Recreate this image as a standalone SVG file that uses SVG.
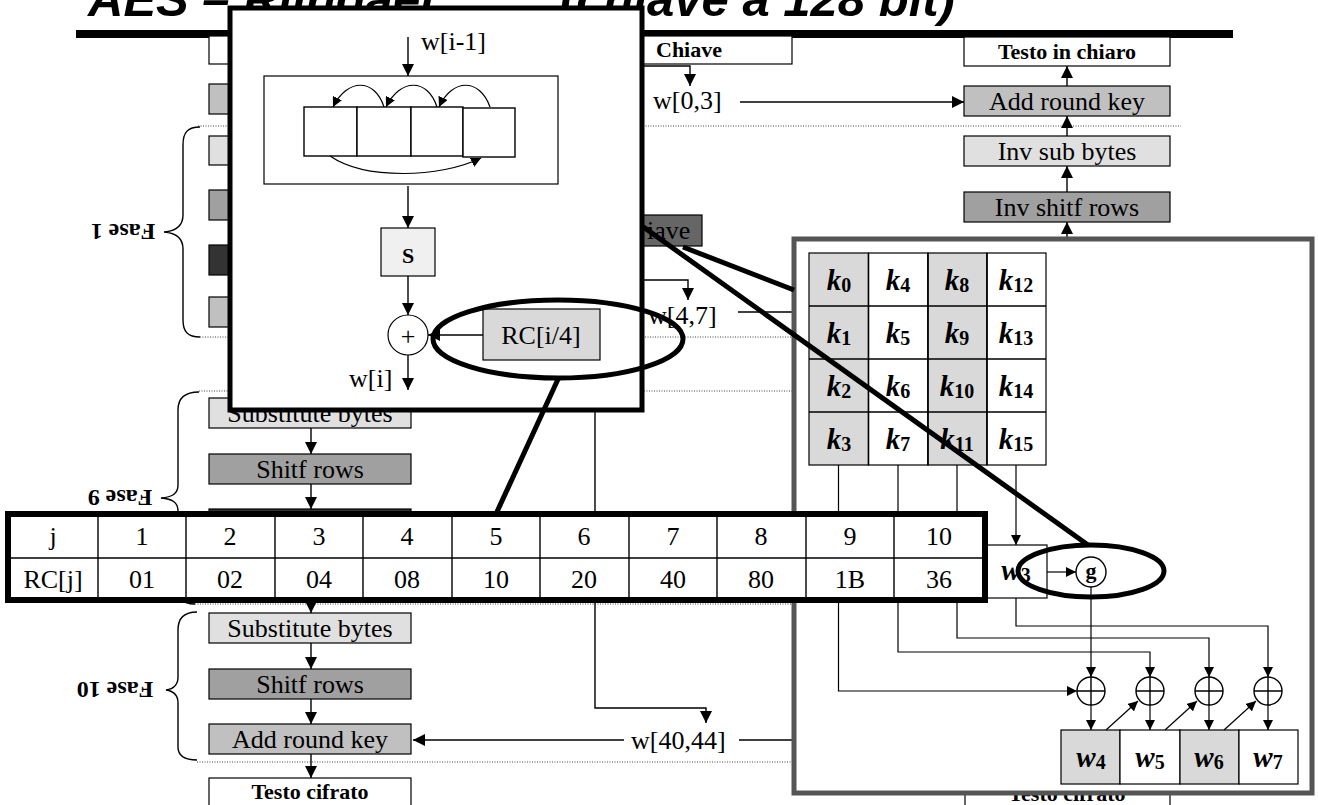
<svg xmlns="http://www.w3.org/2000/svg" width="1318" height="805" viewBox="0 0 1318 805">
<defs>
<marker id="ah" viewBox="0 0 12 12" refX="12" refY="6" markerWidth="12" markerHeight="12" markerUnits="userSpaceOnUse" orient="auto"><path d="M0,0 L12,6 L0,12 z" fill="#000"/></marker>
<marker id="as" viewBox="0 0 10 10" refX="10" refY="5" markerWidth="10" markerHeight="10" markerUnits="userSpaceOnUse" orient="auto"><path d="M0,0 L10,5 L0,10 z" fill="#000"/></marker>
</defs>
<style>
.title{font-family:"Liberation Sans",Arial,sans-serif;font-weight:bold;font-style:italic;font-size:49px;fill:#000}
.t{font-family:"Liberation Serif","Times New Roman",serif;font-size:26px;fill:#000}
.c{text-anchor:middle}
.tb{font-family:"Liberation Serif","Times New Roman",serif;font-size:22px;font-weight:bold;fill:#000}
.fase{font-family:"Liberation Serif","Times New Roman",serif;font-size:24px;font-weight:bold;fill:#000;text-anchor:middle}
.bx{stroke:#000;stroke-width:1.2}
.ln{stroke:#000;stroke-width:1.4;fill:none}
.arr{stroke:#000;stroke-width:1.4;fill:none;marker-end:url(#ah)}
.arrs{stroke:#000;stroke-width:1.2;fill:none;marker-end:url(#as)}
.dot{stroke:#444;stroke-width:1;stroke-dasharray:1 1.5;fill:none}
.kk{font-family:"Liberation Serif","Times New Roman",serif;font-weight:bold;font-style:italic;font-size:29px;fill:#000;text-anchor:middle}
.sub{font-style:normal;font-size:20px}
.thick{stroke:#000;stroke-width:5;fill:none}
.lg{fill:#e0e0e0}.mg{fill:#a0a0a0}.ag{fill:#c0c0c0}.dg{fill:#333}.wh{fill:#fff}.kg{fill:#d9d9d9}
</style>
<rect width="1318" height="805" fill="#fff"/>

<g id="title">
<text x="88" y="16" class="title">AES – Rijndael <tspan x="560">(chiave a 128 bit)</tspan></text>
<rect x="76" y="30" width="1157" height="8" fill="#000"/>
</g>

<g id="separators">
<path class="dot" d="M198,126 H1181"/>
<path class="dot" d="M200,337 H794"/>
<path class="dot" d="M199,391 H794"/>
<path class="dot" d="M190,604 H794"/>
<path class="dot" d="M197,762 H794"/>
</g>

<g id="fase1">
<path class="ln" d="M200,127 C188,127 183,132 183,145 V215 C183,226 176,231 164,232 C176,233 183,238 183,249 V320 C183,332 188,337 200,337" stroke-width="1.2"/>
<text class="fase" x="123" y="240" transform="rotate(180 123 232)">Fase 1</text>
</g>
<g id="fase9">
<path class="ln" d="M199,392 C187,392 178,397 178,410 V485 C178,494 172,497 161,498 C172,499 178,502 178,511 V590 C178,600 185,604 195,604" stroke-width="1.2"/>
<text class="fase" x="120" y="506" transform="rotate(180 120 498)">Fase 9</text>
</g>
<g id="fase10">
<path class="ln" d="M197,612 C185,612 178,617 178,630 V677 C178,686 173,689 166,690 C173,691 178,694 178,703 V747 C178,756 185,760 197,760" stroke-width="1.2"/>
<text class="fase" x="115" y="698" transform="rotate(180 115 690)">Fase 10</text>
</g>

<g id="enc-top"><rect class="bx wh" x="209" y="36" width="202" height="28"/></g>
<g id="enc-ark0"><rect class="bx ag" x="209" y="84" width="202" height="30"/></g>
<g id="enc-sb1"><rect class="bx lg" x="209" y="136" width="202" height="29"/></g>
<g id="enc-sr1"><rect class="bx mg" x="209" y="190" width="202" height="30"/></g>
<g id="enc-mc1"><rect class="bx dg" x="209" y="245" width="202" height="30"/></g>
<g id="enc-ark1"><rect class="bx ag" x="209" y="297" width="202" height="30"/></g>
<g id="enc-sb9"><rect class="bx lg" x="209" y="398" width="202" height="30"/><text class="t c" x="310" y="422">Substitute bytes</text></g>
<g id="enc-sr9"><rect class="bx mg" x="209" y="454" width="202" height="30"/><text class="t c" x="310" y="478">Shitf rows</text></g>
<g id="enc-mc9"><rect class="bx dg" x="209" y="509" width="202" height="30"/></g>
<g id="enc-sb10"><rect class="bx lg" x="209" y="613" width="202" height="30"/><text class="t c" x="310" y="637">Substitute bytes</text></g>
<g id="enc-sr10"><rect class="bx mg" x="209" y="669" width="202" height="30"/><text class="t c" x="310" y="693">Shitf rows</text></g>
<g id="enc-ark10"><rect class="bx ag" x="209" y="724" width="202" height="30"/><text class="t c" x="310" y="748">Add round key</text></g>
<g id="enc-out"><rect class="bx wh" x="209" y="778" width="202" height="30"/><text class="tb c" x="310" y="799">Testo cifrato</text></g>

<g id="key-in"><rect class="bx wh" x="600" y="36" width="192" height="28"/><text class="tb" x="656" y="57">Chiave</text></g>
<g id="key-exp"><rect class="bx" fill="#666" x="600" y="215" width="102" height="31"/><text class="t" x="647" y="239">iave</text></g>
<g id="w03"><text class="t" x="653" y="109">w[0,3]</text></g>
<g id="w47"><text class="t" x="648" y="324">w[4,7]</text></g>
<g id="w4044"><text class="t" x="631" y="749">w[40,44]</text></g>

<g id="dec-out"><rect class="bx wh" x="964" y="37" width="206" height="29"/><text class="tb c" x="1067" y="59">Testo in chiaro</text></g>
<g id="dec-ark"><rect class="bx ag" x="964" y="86" width="206" height="30"/><text class="t c" x="1067" y="110">Add round key</text></g>
<g id="dec-isb"><rect class="bx lg" x="964" y="136" width="206" height="30"/><text class="t c" x="1067" y="160">Inv sub bytes</text></g>
<g id="dec-isr"><rect class="bx mg" x="964" y="192" width="206" height="30"/><text class="t c" x="1067" y="216">Inv shitf rows</text></g>
<g id="dec-in"><rect class="bx wh" x="965" y="778" width="205" height="30"/><text class="tb c" x="1067" y="801">Testo cifrato</text></g>

<g id="connectors">
<path class="arr" d="M311,428 V454"/>
<path class="arr" d="M311,484 V509"/>
<path class="arr" d="M311,600 V613"/>
<path class="arr" d="M311,643 V669"/>
<path class="arr" d="M311,699 V724"/>
<path class="arr" d="M311,754 V778"/>
<path class="arr" d="M600,66 H690 V86"/>
<path class="arr" d="M740,102 H964"/>
<path class="arr" d="M600,280 H688 V300"/>
<path class="ln" d="M738,312 H794"/>
<path class="arr" d="M595,400 V708 H706 V723"/>
<path class="arr" d="M624,740 H413"/>
<path class="ln" d="M739,740 H794"/>
<path class="arr" d="M1067,86 V66"/>
<path class="arr" d="M1067,136 V116"/>
<path class="arr" d="M1067,192 V166"/>
<path class="arr" d="M1067,240 V222"/>
</g>

<g id="key-panel">
<rect x="794" y="239" width="518" height="554" fill="#fff" stroke="#555" stroke-width="5"/>
<g id="kgrid">
<rect class="bx kg" x="809" y="253" width="59.5" height="212"/>
<rect class="bx wh" x="868.5" y="253" width="59.5" height="212"/>
<rect class="bx kg" x="928" y="253" width="59" height="212"/>
<rect class="bx wh" x="987" y="253" width="59" height="212"/>
<path class="ln" d="M809,306 H1046 M809,359 H1046 M809,412 H1046 M868.5,253 V465 M928,253 V465 M987,253 V465" stroke-width="1.6"/>
<text class="kk" x="839" y="290">k<tspan class="sub" dy="2">0</tspan></text>
<text class="kk" x="839" y="343">k<tspan class="sub" dy="2">1</tspan></text>
<text class="kk" x="839" y="396">k<tspan class="sub" dy="2">2</tspan></text>
<text class="kk" x="839" y="449">k<tspan class="sub" dy="2">3</tspan></text>
<text class="kk" x="898" y="290">k<tspan class="sub" dy="2">4</tspan></text>
<text class="kk" x="898" y="343">k<tspan class="sub" dy="2">5</tspan></text>
<text class="kk" x="898" y="396">k<tspan class="sub" dy="2">6</tspan></text>
<text class="kk" x="898" y="449">k<tspan class="sub" dy="2">7</tspan></text>
<text class="kk" x="957" y="290">k<tspan class="sub" dy="2">8</tspan></text>
<text class="kk" x="957" y="343">k<tspan class="sub" dy="2">9</tspan></text>
<text class="kk" x="957" y="396">k<tspan class="sub" dy="2">10</tspan></text>
<text class="kk" x="957" y="449">k<tspan class="sub" dy="2">11</tspan></text>
<text class="kk" x="1016" y="290">k<tspan class="sub" dy="2">12</tspan></text>
<text class="kk" x="1016" y="343">k<tspan class="sub" dy="2">13</tspan></text>
<text class="kk" x="1016" y="396">k<tspan class="sub" dy="2">14</tspan></text>
<text class="kk" x="1016" y="449">k<tspan class="sub" dy="2">15</tspan></text>
</g>
<g id="w3"><rect class="bx wh" x="986" y="545" width="61" height="53"/><text class="kk" x="1016" y="580">w<tspan class="sub" dy="2">3</tspan></text></g>
<g id="g-func"><circle cx="1091" cy="572" r="15" fill="#fff" stroke="#000" stroke-width="1.4"/><text class="tb c" x="1091" y="578" font-size="20">g</text></g>
<g id="xors" fill="#fff" stroke="#000" stroke-width="1.4">
<circle cx="1091" cy="691" r="14"/><path d="M1077,691 H1105 M1091,677 V705"/>
<circle cx="1150" cy="691" r="14"/><path d="M1136,691 H1164 M1150,677 V705"/>
<circle cx="1209" cy="691" r="14"/><path d="M1195,691 H1223 M1209,677 V705"/>
<circle cx="1268" cy="691" r="14"/><path d="M1254,691 H1282 M1268,677 V705"/>
</g>
<g id="wout">
<rect class="bx kg" x="1061" y="730" width="59" height="54"/>
<rect class="bx wh" x="1120" y="730" width="60" height="54"/>
<rect class="bx kg" x="1180" y="730" width="59" height="54"/>
<rect class="bx wh" x="1239" y="730" width="59" height="54"/>
<text class="kk" x="1091" y="767">w<tspan class="sub" dy="2">4</tspan></text>
<text class="kk" x="1150" y="767">w<tspan class="sub" dy="2">5</tspan></text>
<text class="kk" x="1209" y="767">w<tspan class="sub" dy="2">6</tspan></text>
<text class="kk" x="1268" y="767">w<tspan class="sub" dy="2">7</tspan></text>
</g>
<g id="panel-connectors">
<path class="arrs" d="M1016,465 V545"/>
<path class="arrs" d="M1047,572 H1076"/>
<path class="arrs" d="M1091,587 V677"/>
<path class="arrs" d="M838.5,465 V691 H1077"/>
<path class="arrs" d="M898,465 V652 H1150 V677"/>
<path class="arrs" d="M957,465 V638 H1209 V677"/>
<path class="arrs" d="M1016,598 V626 H1268 V677"/>
<path class="arrs" d="M1091,705 V730"/>
<path class="arrs" d="M1150,705 V730"/>
<path class="arrs" d="M1209,705 V730"/>
<path class="arrs" d="M1268,705 V730"/>
<path class="arrs" d="M1106,730 L1138,701"/>
<path class="arrs" d="M1165,730 L1197,701"/>
<path class="arrs" d="M1224,730 L1256,701"/>
</g>
</g>

<g id="rc-table">
<rect x="8" y="514" width="977" height="86" fill="#fff" stroke="#000" stroke-width="6"/>
<path class="ln" d="M8,558 H985 M98,514 V600 M186,514 V600 M275,514 V600 M363,514 V600 M452,514 V600 M540,514 V600 M629,514 V600 M717,514 V600 M806,514 V600 M894,514 V600" stroke-width="1.6"/>
<g class="t c">
<text x="53" y="545">j</text><text x="142" y="545">1</text><text x="230" y="545">2</text><text x="319" y="545">3</text><text x="407" y="545">4</text><text x="496" y="545">5</text><text x="584" y="545">6</text><text x="673" y="545">7</text><text x="761" y="545">8</text><text x="850" y="545">9</text><text x="939" y="545">10</text>
<text x="53" y="588">RC[j]</text><text x="142" y="588">01</text><text x="230" y="588">02</text><text x="319" y="588">04</text><text x="407" y="588">08</text><text x="496" y="588">10</text><text x="584" y="588">20</text><text x="673" y="588">40</text><text x="761" y="588">80</text><text x="850" y="588">1B</text><text x="939" y="588">36</text>
</g>
</g>

<g id="g-detail">
<rect x="230" y="8" width="412" height="402" fill="#fff" stroke="#000" stroke-width="5"/>
<text class="t" x="421" y="50">w[i-1]</text>
<path class="arr" d="M408,37 V76"/>
<rect x="264" y="76" width="294" height="108" fill="none" stroke="#000" stroke-width="1.2"/>
<g fill="#fff" stroke="#000" stroke-width="1.4">
<rect x="304" y="107" width="53" height="49"/>
<rect x="357" y="107" width="54" height="49"/>
<rect x="411" y="107" width="52" height="49"/>
<rect x="463" y="108" width="52" height="49"/>
</g>
<path class="arrs" d="M490,107 C480,78 452,78 439,107"/>
<path class="arrs" d="M437,107 C428,78 400,78 386,107"/>
<path class="arrs" d="M384,107 C375,78 347,78 333,107"/>
<path class="arrs" d="M330,156 C365,180 440,178 481,158"/>
<path class="arr" d="M408,186 V228"/>
<rect x="381" y="228" width="54" height="48" fill="#f0f0f0" stroke="#000" stroke-width="1.2"/>
<text class="tb c" x="408" y="263" font-size="30">S</text>
<path class="arr" d="M408,276 V315"/>
<circle cx="408" cy="335" r="20" fill="#fff" stroke="#000" stroke-width="1.2"/>
<text class="t c" x="408" y="345" font-size="30">+</text>
<path class="arr" d="M483,335 H428"/>
<rect x="483" y="309" width="117" height="51" fill="#d9d9d9" stroke="#000" stroke-width="1.2"/>
<text class="t c" x="541" y="344">RC[i/4]</text>
<path class="arr" d="M408,355 V390"/>
<text class="t" x="349" y="387">w[i]</text>
</g>

<g id="callouts">
<ellipse class="thick" cx="558" cy="339" rx="125" ry="39"/>
<path class="thick" d="M559,377 L496,514"/>
<ellipse class="thick" cx="1091" cy="571" rx="73" ry="26"/>
<path class="thick" d="M642,226 L1088,545"/>
<path class="thick" d="M683,247 L794,290"/>
</g>
</svg>
